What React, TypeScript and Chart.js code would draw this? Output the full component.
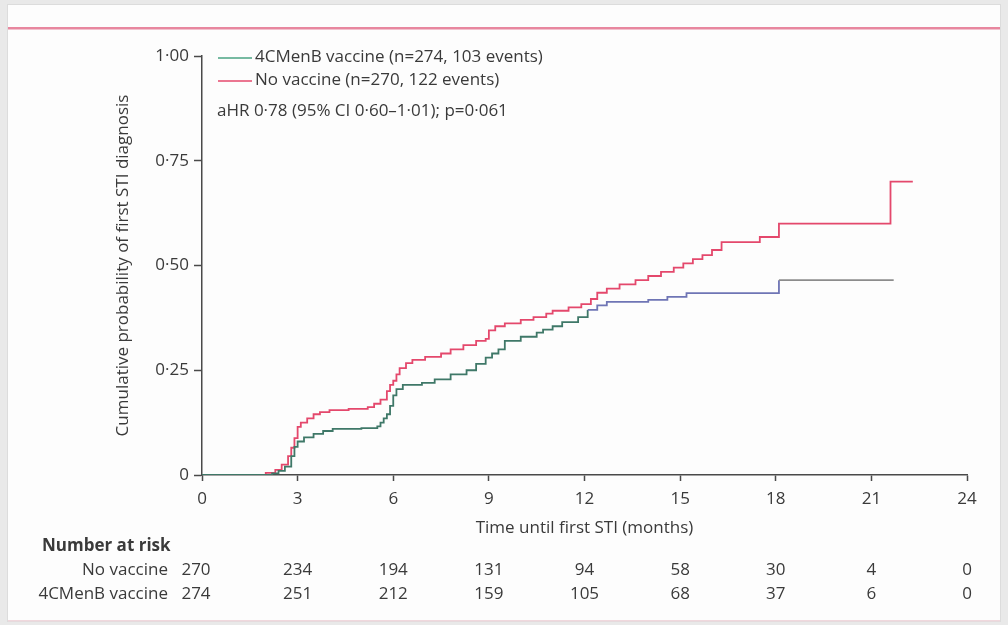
import React, { useEffect, useRef } from "react";
import { Chart, registerables } from "chart.js";

Chart.register(...registerables);

// ---- Data ----
const noVaccineTimes = [0, 2.0, 2.3, 2.5, 2.7, 2.8, 2.9, 3.0, 3.1, 3.3, 3.5, 3.7, 4.0, 4.6, 5.2, 5.4, 5.6, 5.8, 5.9, 6.0, 6.1, 6.2, 6.4, 6.6, 7.0, 7.5, 7.8, 8.2, 8.6, 8.9, 9.0, 9.2, 9.5, 10.0, 10.4, 10.8, 11.0, 11.5, 11.9, 12.2, 12.4, 12.7, 13.1, 13.6, 14.0, 14.4, 14.8, 15.1, 15.4, 15.7, 16.0, 16.3, 17.5, 18.1, 21.6, 22.3];
const noVaccineProb = [0, 0.005, 0.012, 0.025, 0.045, 0.065, 0.088, 0.115, 0.125, 0.135, 0.145, 0.15, 0.155, 0.158, 0.162, 0.17, 0.18, 0.2, 0.215, 0.225, 0.24, 0.255, 0.267, 0.275, 0.282, 0.29, 0.3, 0.31, 0.32, 0.325, 0.345, 0.355, 0.362, 0.37, 0.377, 0.385, 0.392, 0.4, 0.408, 0.42, 0.435, 0.445, 0.455, 0.465, 0.475, 0.485, 0.495, 0.505, 0.515, 0.525, 0.537, 0.556, 0.568, 0.6, 0.7, 0.7];

const vaccineTimes = [0, 2.2, 2.4, 2.6, 2.8, 2.9, 3.0, 3.2, 3.5, 3.8, 4.1, 5.0, 5.5, 5.6, 5.7, 5.8, 5.9, 6.0, 6.1, 6.3, 6.9, 7.3, 7.8, 8.3, 8.6, 8.9, 9.1, 9.3, 9.5, 10.0, 10.5, 10.7, 11.0, 11.3, 11.8, 12.1, 12.4, 12.7, 14.0, 14.6, 15.2, 18.1, 21.7];
const vaccineProb = [0, 0.004, 0.01, 0.02, 0.045, 0.067, 0.08, 0.09, 0.098, 0.105, 0.11, 0.112, 0.116, 0.125, 0.135, 0.145, 0.165, 0.19, 0.205, 0.215, 0.22, 0.228, 0.24, 0.25, 0.265, 0.28, 0.29, 0.3, 0.32, 0.33, 0.34, 0.347, 0.355, 0.365, 0.377, 0.394, 0.405, 0.413, 0.418, 0.425, 0.434, 0.465, 0.465];

const xTicks = [0, 3, 6, 9, 12, 15, 18, 21, 24];
const yTickLabels = ["0", "0·25", "0·50", "0·75", "1·00"];

const riskNoVaccine = [270, 234, 194, 131, 94, 58, 30, 4, 0];
const riskVaccine = [274, 251, 212, 159, 105, 68, 37, 6, 0];

const seriesLabels = ["4CMenB vaccine (n=274, 103 events)", "No vaccine (n=270, 122 events)"];
const riskLabels = ["No vaccine", "4CMenB vaccine"];
const noteText = "aHR 0·78 (95% CI 0·60–1·01); p=0·061";
const xTitle = "Time until first STI (months)";
const yTitle = "Cumulative probability of first STI diagnosis";
const riskTitle = "Number at risk";

const FONT = "'Open Sans', Lato, sans-serif";
const FS = 17;
const TEXT = "#3a3a3a";
const AXIS = "#4a4a4a";
const RED = "#e4486c";
const GREEN = "#3f7868";
const BLUE = "#6f75b5";
const GREY = "#8c8c8c";
const LEGEND_GREEN = "#4aa383";

const decor = {
  id: "decor",
  beforeDraw(chart: any) {
    const { ctx, width, height } = chart;
    ctx.save();
    ctx.fillStyle = "#e9e9e9";
    ctx.fillRect(0, 0, width, height);
    ctx.fillStyle = "#fdfdfd";
    ctx.fillRect(7, 4, 994, 618);
    ctx.strokeStyle = "#dcdcdc";
    ctx.lineWidth = 1;
    ctx.strokeRect(7.5, 4.5, 993, 617);
    ctx.fillStyle = "#e8879f";
    ctx.fillRect(8, 27, 992, 2.5);
    ctx.fillStyle = "#f0d8dd";
    ctx.fillRect(8, 620, 992, 1.5);
    ctx.restore();
  },
  afterDraw(chart: any) {
    const { ctx } = chart;
    const x = chart.scales.x;
    const area = chart.chartArea;
    ctx.save();
    ctx.fillStyle = TEXT;
    ctx.font = `${FS}px ${FONT}`;
    ctx.textBaseline = "middle";

    // legend
    const legendRows = [
      { label: seriesLabels[0], color: LEGEND_GREEN, y: 57 },
      { label: seriesLabels[1], color: RED, y: 80 },
    ];
    legendRows.forEach((r) => {
      ctx.strokeStyle = r.color;
      ctx.lineWidth = 1.5;
      ctx.beginPath();
      ctx.moveTo(218, r.y + 1);
      ctx.lineTo(252, r.y + 1);
      ctx.stroke();
      ctx.textAlign = "left";
      ctx.fillText(r.label, 255, r.y);
    });
    ctx.fillText(noteText, 217, 111);

    // axis titles
    ctx.textAlign = "center";
    ctx.fillText(xTitle, (area.left + area.right) / 2, 528);
    ctx.save();
    ctx.translate(123, (area.top + area.bottom) / 2);
    ctx.rotate(-Math.PI / 2);
    ctx.fillText(yTitle, 0, 0);
    ctx.restore();

    // risk table
    ctx.font = `bold ${FS}px ${FONT}`;
    ctx.textAlign = "left";
    ctx.fillText(riskTitle, 42, 546);
    ctx.font = `${FS}px ${FONT}`;
    ctx.textAlign = "right";
    ctx.fillText(riskLabels[0], 168, 570);
    ctx.fillText(riskLabels[1], 168, 594);
    ctx.textAlign = "center";
    xTicks.forEach((t, i) => {
      const px = x.getPixelForValue(t) - (i === 0 ? 6 : 0);
      ctx.fillText(String(riskNoVaccine[i]), px, 570);
      ctx.fillText(String(riskVaccine[i]), px, 594);
    });
    ctx.restore();
  },
};

export default function App() {
  const ref = useRef<HTMLCanvasElement | null>(null);
  useEffect(() => {
    document.body.style.margin = "0";
    if (!ref.current) return;
    const chart = new Chart(ref.current, {
      type: "line",
      data: {
        datasets: [
          {
            label: seriesLabels[0],
            data: vaccineTimes.map((t, i) => ({ x: t, y: vaccineProb[i] })),
            borderColor: GREEN,
            borderWidth: 1.8,
            pointRadius: 0,
            fill: false,
            stepped: "before",
            segment: {
              borderColor: (c: any) =>
                c.p0.parsed.x >= 18 ? GREY : c.p0.parsed.x >= 12 ? BLUE : GREEN,
            },
          },
          {
            label: seriesLabels[1],
            data: noVaccineTimes.map((t, i) => ({ x: t, y: noVaccineProb[i] })),
            borderColor: RED,
            borderWidth: 1.8,
            pointRadius: 0,
            fill: false,
            stepped: "before",
          },
        ],
      },
      options: {
        animation: false,
        responsive: false,
        layout: { padding: { top: 56, right: 41, left: 0, bottom: 0 } },
        plugins: { legend: { display: false }, tooltip: { enabled: false } },
        scales: {
          x: {
            type: "linear",
            min: 0,
            max: 24,
            afterFit: (s: any) => {
              s.height = 150;
            },
            afterBuildTicks: (s: any) => {
              s.ticks = xTicks.map((v) => ({ value: v }));
            },
            border: { display: true, color: AXIS, width: 1.5 },
            grid: { drawOnChartArea: false, drawTicks: true, tickLength: 6, tickColor: AXIS, tickWidth: 1.5 },
            ticks: { color: TEXT, font: { family: FONT, size: FS }, padding: 8, maxRotation: 0, autoSkip: false },
          },
          y: {
            type: "linear",
            min: 0,
            max: 1,
            afterFit: (s: any) => {
              s.width = 202;
            },
            afterBuildTicks: (s: any) => {
              s.ticks = [0, 0.25, 0.5, 0.75, 1].map((v) => ({ value: v }));
            },
            border: { display: true, color: AXIS, width: 1.5 },
            grid: { drawOnChartArea: false, drawTicks: true, tickLength: 8, tickColor: AXIS, tickWidth: 1.5 },
            ticks: {
              color: TEXT,
              font: { family: FONT, size: FS },
              padding: 5,
              autoSkip: false,
              callback: (_v: any, i: number) => yTickLabels[i],
            },
          },
        },
      },
      plugins: [decor],
    });
    return () => chart.destroy();
  }, []);
  return (
    <div style={{ width: 1008, height: 625 }}>
      <canvas ref={ref} width={1008} height={625} style={{ display: "block" }} />
    </div>
  );
}
